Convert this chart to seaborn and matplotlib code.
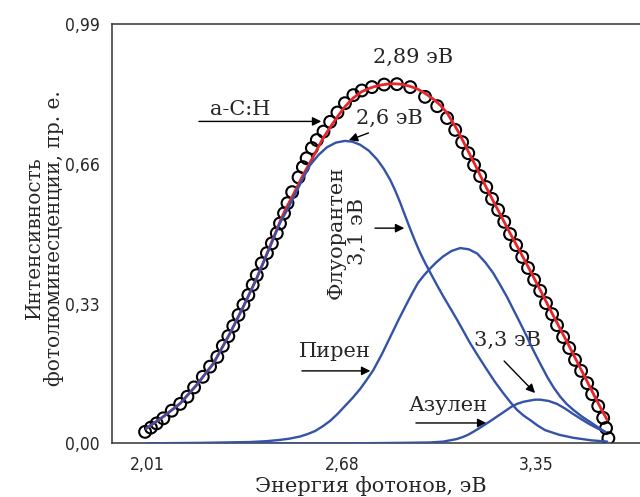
import matplotlib
matplotlib.use("Agg")
import matplotlib.pyplot as plt
import seaborn as sns

# =====================================================
# DATA
# =====================================================
# measured points (open circles)
meas_e = [2.002, 2.022, 2.042, 2.065, 2.094, 2.123, 2.148, 2.171, 2.201, 2.226,
          2.251, 2.270, 2.289, 2.306, 2.324, 2.341, 2.358, 2.373, 2.387, 2.404,
          2.422, 2.439, 2.456, 2.467, 2.481, 2.493, 2.509, 2.531, 2.546, 2.559,
          2.577, 2.594, 2.617, 2.640, 2.665, 2.691, 2.720, 2.749, 2.784, 2.826,
          2.870, 2.916, 2.967, 3.009, 3.043, 3.071, 3.095, 3.116, 3.136, 3.157,
          3.178, 3.198, 3.219, 3.240, 3.260, 3.281, 3.302, 3.322, 3.343, 3.364,
          3.384, 3.405, 3.422, 3.443, 3.464, 3.484, 3.505, 3.526, 3.543, 3.564,
          3.581, 3.591, 3.599]
meas_i = [0.027, 0.037, 0.047, 0.059, 0.077, 0.093, 0.110, 0.132, 0.157, 0.181,
          0.204, 0.230, 0.253, 0.277, 0.303, 0.327, 0.350, 0.374, 0.397, 0.425,
          0.449, 0.472, 0.496, 0.519, 0.543, 0.567, 0.593, 0.628, 0.652, 0.673,
          0.697, 0.716, 0.736, 0.759, 0.781, 0.803, 0.822, 0.833, 0.841, 0.847,
          0.848, 0.841, 0.818, 0.796, 0.768, 0.740, 0.711, 0.685, 0.657, 0.631,
          0.605, 0.577, 0.551, 0.523, 0.494, 0.468, 0.440, 0.414, 0.386, 0.360,
          0.331, 0.305, 0.279, 0.251, 0.225, 0.197, 0.171, 0.142, 0.116, 0.088,
          0.060, 0.036, 0.012]

# total fit (red)
fit_e = [2.006, 2.065, 2.123, 2.180, 2.238, 2.295, 2.341, 2.387, 2.433, 2.467,
         2.485, 2.512, 2.547, 2.581, 2.616, 2.640, 2.664, 2.690, 2.719, 2.748,
         2.778, 2.807, 2.836, 2.860, 2.881, 2.910, 2.940, 2.968, 2.995, 3.020,
         3.043, 3.060, 3.078, 3.100, 3.122, 3.145, 3.167, 3.196, 3.226, 3.260,
         3.295, 3.330, 3.364, 3.398, 3.433, 3.468, 3.502, 3.528, 3.553, 3.575,
         3.595]
fit_i = [0.035, 0.063, 0.094, 0.138, 0.189, 0.260, 0.323, 0.390, 0.466, 0.523,
         0.551, 0.586, 0.634, 0.676, 0.721, 0.746, 0.770, 0.794, 0.815, 0.830,
         0.839, 0.845, 0.848, 0.849, 0.848, 0.844, 0.837, 0.826, 0.813, 0.798,
         0.780, 0.761, 0.740, 0.711, 0.681, 0.650, 0.619, 0.580, 0.541, 0.496,
         0.452, 0.407, 0.362, 0.316, 0.270, 0.224, 0.178, 0.143, 0.109, 0.080,
         0.055]

# band 2,6 eV
b1_e = [2.006, 2.065, 2.123, 2.180, 2.238, 2.295, 2.341, 2.387, 2.433, 2.467,
        2.492, 2.523, 2.548, 2.571, 2.600, 2.629, 2.660, 2.691, 2.717, 2.743,
        2.773, 2.802, 2.825, 2.847, 2.864, 2.881, 2.898, 2.916, 2.933, 2.950,
        2.968, 2.985, 3.007, 3.029, 3.054, 3.078, 3.100, 3.122, 3.150, 3.181,
        3.208, 3.236, 3.260, 3.284, 3.306, 3.329, 3.355, 3.381, 3.430, 3.478,
        3.540, 3.595]
b1_i = [0.035, 0.063, 0.094, 0.138, 0.189, 0.260, 0.323, 0.390, 0.464, 0.520,
        0.551, 0.593, 0.628, 0.657, 0.681, 0.699, 0.710, 0.714, 0.712, 0.705,
        0.691, 0.670, 0.648, 0.622, 0.597, 0.569, 0.538, 0.506, 0.477, 0.450,
        0.425, 0.403, 0.375, 0.348, 0.319, 0.291, 0.264, 0.237, 0.206, 0.173,
        0.145, 0.119, 0.098, 0.079, 0.066, 0.055, 0.042, 0.031, 0.020, 0.013,
        0.007, 0.004]

# band 3,1 eV (Пирен)
b2_e = [2.009, 2.192, 2.364, 2.420, 2.467, 2.500, 2.536, 2.563, 2.588, 2.614,
        2.640, 2.665, 2.691, 2.717, 2.743, 2.765, 2.788, 2.818, 2.847, 2.876,
        2.905, 2.925, 2.943, 2.965, 2.985, 3.007, 3.029, 3.058, 3.088, 3.118,
        3.147, 3.175, 3.202, 3.226, 3.250, 3.272, 3.295, 3.318, 3.340, 3.364,
        3.388, 3.410, 3.433, 3.455, 3.478, 3.508, 3.537, 3.565, 3.588]
b2_i = [0.000, 0.001, 0.003, 0.005, 0.008, 0.011, 0.016, 0.022, 0.029, 0.040,
        0.053, 0.069, 0.088, 0.107, 0.128, 0.149, 0.172, 0.210, 0.251, 0.292,
        0.331, 0.357, 0.379, 0.398, 0.413, 0.428, 0.441, 0.454, 0.461, 0.458,
        0.448, 0.427, 0.402, 0.374, 0.345, 0.315, 0.284, 0.252, 0.220, 0.188,
        0.157, 0.132, 0.110, 0.093, 0.079, 0.063, 0.050, 0.037, 0.027]

# band 3,3 eV (Азулен)
b3_e = [2.009, 2.709, 2.881, 2.985, 3.030, 3.053, 3.076, 3.098, 3.115, 3.133,
        3.162, 3.191, 3.217, 3.243, 3.264, 3.284, 3.306, 3.329, 3.346, 3.364,
        3.393, 3.422, 3.450, 3.478, 3.508, 3.537, 3.565, 3.588]
b3_i = [0.000, 0.000, 0.001, 0.002, 0.004, 0.007, 0.010, 0.015, 0.020, 0.027,
        0.039, 0.052, 0.064, 0.076, 0.086, 0.093, 0.098, 0.101, 0.103, 0.103,
        0.100, 0.093, 0.082, 0.069, 0.056, 0.044, 0.034, 0.027]

x_ticks = [2.01, 2.68, 3.35]
x_tick_labels = ["2,01", "2,68", "3,35"]
y_ticks = [0.0, 0.33, 0.66, 0.99]
y_tick_labels = ["0,00", "0,33", "0,66", "0,99"]

# =====================================================
# STYLE
# =====================================================
sns.set_style("white")
plt.rcParams["font.family"] = ["DejaVu Serif"]

BLUE = "#3352a8"
RED = "#e8252a"
TICK_FONT = ["DejaVu Sans Condensed", "Liberation Sans Narrow", "DejaVu Sans"]

fig = plt.figure(figsize=(6.4, 4.97), dpi=100)
ax = fig.add_axes([112 / 640, 53.7 / 497, 528 / 640, 419.3 / 497])

# =====================================================
# PLOT
# =====================================================
sns.scatterplot(x=meas_e, y=meas_i, ax=ax, s=72, marker="o",
                facecolor="none", edgecolor="black", linewidth=1.5, zorder=2)
sns.lineplot(x=fit_e, y=fit_i, ax=ax, color=RED, lw=2.0,
             estimator=None, sort=False, zorder=3)
for xs, ys in [(b1_e, b1_i), (b2_e, b2_i), (b3_e, b3_i)]:
    sns.lineplot(x=xs, y=ys, ax=ax, color=BLUE, lw=1.7,
                 estimator=None, sort=False, zorder=4)

ax.set_xlim(1.888, 3.708)
ax.set_ylim(0, 0.99)

ax.set_xticks(x_ticks)
ax.set_xticklabels(x_tick_labels, family=TICK_FONT, fontstretch="condensed",
                   fontsize=12.5)
ax.set_yticks(y_ticks)
ax.set_yticklabels(y_tick_labels, family=TICK_FONT, fontstretch="condensed",
                   fontsize=12.5)
ax.tick_params(length=0, pad=9)

for side in ["left", "top", "bottom"]:
    ax.spines[side].set_color("#333333")
    ax.spines[side].set_linewidth(1.1)
ax.spines["right"].set_visible(False)

ax.set_xlabel("Энергия фотонов, эВ", fontsize=15)
ax.xaxis.set_label_coords(0.491, -0.078)
ax.set_ylabel("Интенсивность\nфотолюминесценции, пр. е.", fontsize=14.5,
              linespacing=1.05)
ax.yaxis.set_label_coords(-0.09, 0.49)

# =====================================================
# ANNOTATIONS
# =====================================================
arrow = dict(arrowstyle="-|>", color="black", lw=1.0, mutation_scale=13)
fs = 15

ax.text(2.926, 0.912, "2,89 эВ", fontsize=fs, ha="center", va="center")

ax.text(2.330, 0.787, "a-C:H", fontsize=fs, ha="center", va="center")
ax.annotate("", xy=(2.619, 0.760), xytext=(2.178, 0.760), arrowprops=arrow)

ax.text(2.843, 0.768, "2,6 эВ", fontsize=fs, ha="center", va="center")
ax.annotate("", xy=(2.695, 0.713), xytext=(2.781, 0.735), arrowprops=arrow)

ax.text(2.698, 0.499, "Флуорантен\n3,1 эВ", fontsize=fs, ha="center",
        va="center", rotation=90, linespacing=1.1)
ax.annotate("", xy=(2.905, 0.508), xytext=(2.785, 0.508), arrowprops=arrow)

ax.text(2.657, 0.216, "Пирен", fontsize=fs, ha="center", va="center")
ax.annotate("", xy=(2.788, 0.171), xytext=(2.533, 0.171), arrowprops=arrow)

ax.text(3.047, 0.090, "Азулен", fontsize=fs, ha="center", va="center")
ax.annotate("", xy=(3.188, 0.048), xytext=(2.926, 0.048), arrowprops=arrow)

ax.text(3.250, 0.244, "3,3 эВ", fontsize=fs, ha="center", va="center")
ax.annotate("", xy=(3.353, 0.114), xytext=(3.233, 0.199), arrowprops=arrow)

fig.savefig("out.png", dpi=100)
plt.close(fig)
